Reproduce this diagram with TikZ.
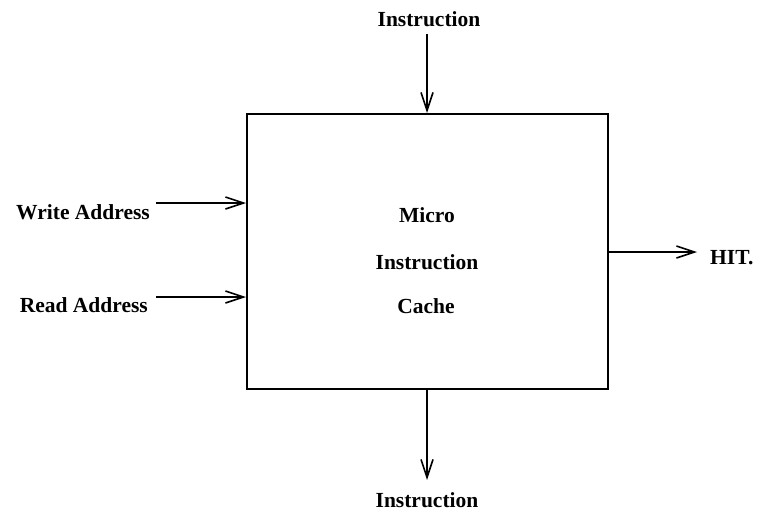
\documentclass[tikz,border=0pt]{standalone}
\usepackage{fontspec}
\setmainfont{Liberation Serif}
\usetikzlibrary{arrows.meta}
\begin{document}
\begin{tikzpicture}[x=1pt,y=-1pt,
  lbl/.style={font=\fontsize{21.5}{24}\selectfont\bfseries, inner sep=0pt, anchor=base},
  conn/.style={line width=1.4pt, -{Straight Barb[length=18pt,width=12pt,line width=1.6pt]}}]
\useasboundingbox[fill=white] (0,0) rectangle (757,514);
\node[draw, line width=1.6pt, minimum width=361pt, minimum height=275pt, inner sep=0pt, anchor=north west] (box) at (246,113) {};
\node[lbl] (m1) at (427,222) {Micro};
\node[lbl] (m2) at (427,269) {Instruction};
\node[lbl] (m3) at (426,313) {Cache};
\node[lbl] (tin) at (429,27) {Instruction};
\node[lbl] (bin) at (427,507) {Instruction};
\node[lbl, anchor=base east] (wa) at (150,219) {Write Address};
\node[lbl, anchor=base east] (ra) at (148,312) {Read Address};
\node[lbl, anchor=base west] (hit) at (710,264) {HIT.};
\coordinate (tstart) at (427,34);
\coordinate (bend) at (427,480);
\coordinate (ws) at (156,203);
\coordinate (rs) at (156,297);
\coordinate (he) at (697,252);
\draw[conn] (tstart) -- (box.north -| tstart);
\draw[conn] (box.south -| bend) -- (bend);
\draw[conn] (ws) -- (ws -| box.west);
\draw[conn] (rs) -- (rs -| box.west);
\draw[conn] (he -| box.east) -- (he);
\end{tikzpicture}
\end{document}
